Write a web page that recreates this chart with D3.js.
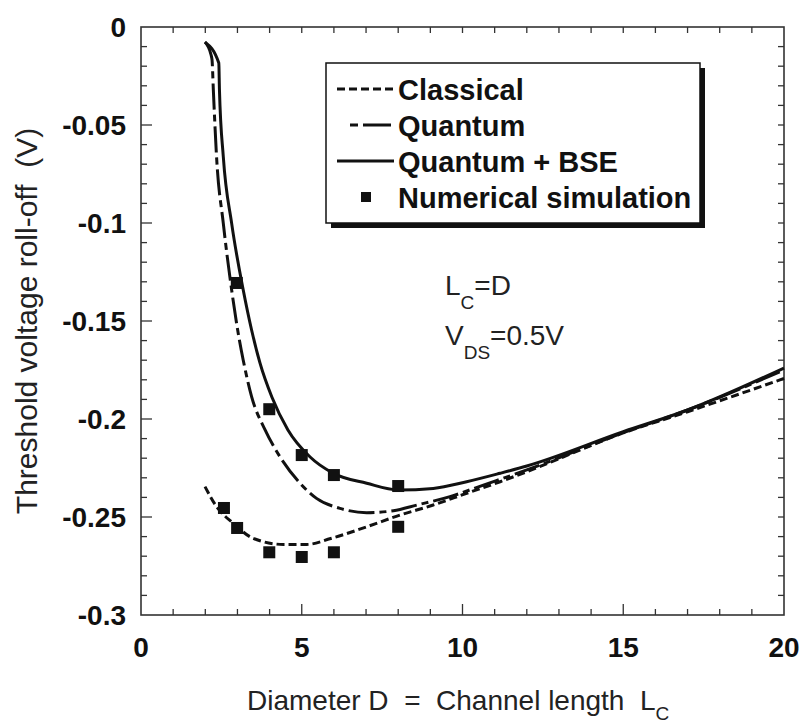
<!DOCTYPE html>
<html>
<head>
<meta charset="utf-8">
<script src="https://cdn.jsdelivr.net/npm/d3@7"></script>
<style>
	body { margin: 0; background: #fff; }
	svg { display: block; font-family: 'Liberation Sans', Arial, sans-serif; }
</style>
</head>
<body>
<script>
// curves: [D, roll-off (V)]
const classical = [[1.99, -0.2345], [2.35, -0.2447], [2.87, -0.2532], [3.49, -0.2609], [4.43, -0.264], [5.15, -0.264],
	[5.9, -0.261], [7.02, -0.255], [8.06, -0.249], [9.09, -0.2439], [10.13, -0.2379], [11.17, -0.232], [12, -0.2269],
	[15, -0.2071], [17, -0.1963], [20, -0.1793]]
const quantum = [[1.99, -0.0077], [2.18, -0.0143], [2.21, -0.0168], [2.25, -0.0321], [2.35, -0.0662], [2.56, -0.1002],
	[2.82, -0.1342], [3.06, -0.1597], [3.18, -0.170], [3.44, -0.1886], [3.86, -0.2056], [4.32, -0.2192], [4.95, -0.2328],
	[5.46, -0.2405], [6.19, -0.2456], [7.02, -0.2478], [7.85, -0.2468], [8.58, -0.2439], [9.61, -0.2396], [10.65, -0.2337],
	[12, -0.226], [15, -0.207], [17, -0.1954], [20, -0.175]]
const quantumBSE = [[1.99, -0.0077], [2.42, -0.0184], [2.44, -0.032], [2.56, -0.0662], [2.82, -0.1002], [3.18, -0.1342],
	[3.44, -0.1546], [3.70, -0.1714], [4.07, -0.1888], [4.57, -0.2056], [5.26, -0.2194], [5.97, -0.2276], [7.02, -0.2328],
	[8.0, -0.2362], [9.09, -0.2354], [10.13, -0.232], [11.17, -0.2277], [12, -0.224], [15, -0.2065], [17, -0.1954], [20, -0.174]]
const simulation = [[2.58, -0.2454], [2.99, -0.2556], [3.99, -0.268], [5, -0.2704], [6, -0.268], [8, -0.255],
	[2.98, -0.1306], [3.99, -0.195], [5, -0.2184], [6, -0.2286], [8, -0.2342]]
const xTicks = [0, 5, 10, 15, 20]
const yTicks = [0, -0.05, -0.1, -0.15, -0.2, -0.25, -0.3]
const legendNames = ['Classical', 'Quantum', 'Quantum + BSE', 'Numerical simulation']

const svg = d3.select('body').append('svg').attr('width', 801).attr('height', 723)
const x = d3.scaleLinear().domain([0, 20]).range([141, 784])
const y = d3.scaleLinear().domain([-0.3, 0]).range([615, 27])
const axisColor = '#333'

// frame + ticks
const frame = svg.append('g')
frame.append('rect')
	.attr('x', x(0)).attr('y', y(0))
	.attr('width', x(20) - x(0)).attr('height', y(-0.3) - y(0))
	.attr('fill', 'none').attr('stroke', axisColor).attr('stroke-width', 1.6)

const xMinor = d3.range(1, 20)
const yMinor = d3.range(1, 30).map(i => -i / 100)
frame.selectAll('line.xb').data(xMinor).join('line')
	.attr('x1', d => x(d)).attr('x2', d => x(d))
	.attr('y1', y(-0.3)).attr('y2', d => y(-0.3) - (d % 5 === 0 ? 11 : 6))
frame.selectAll('line.xt').data(xMinor).join('line')
	.attr('x1', d => x(d)).attr('x2', d => x(d))
	.attr('y1', y(0)).attr('y2', y(0) + 6)
frame.selectAll('line.yl').data(yMinor).join('line')
	.attr('y1', d => y(d)).attr('y2', d => y(d))
	.attr('x1', x(0)).attr('x2', (d, i) => x(0) + ((i + 1) % 5 === 0 ? 11 : 6))
frame.selectAll('line.yr').data(yMinor).join('line')
	.attr('y1', d => y(d)).attr('y2', d => y(d))
	.attr('x1', x(20)).attr('x2', x(20) - 6)
frame.selectAll('line').attr('stroke', axisColor).attr('stroke-width', 1.3)

// tick labels
svg.append('g').selectAll('text').data(xTicks).join('text')
	.attr('x', d => x(d)).attr('y', 657)
	.attr('text-anchor', 'middle').attr('font-size', 28).attr('font-weight', 'bold').attr('fill', '#111')
	.text(d => d)
svg.append('g').selectAll('text').data(yTicks).join('text')
	.attr('x', 126).attr('y', d => y(d) + 10)
	.attr('text-anchor', 'end').attr('font-size', 28).attr('font-weight', 'bold').attr('fill', '#111')
	.text(d => d === 0 ? '0' : d3.format('')(d).replace('−', '-'))

// axis titles
const xt = svg.append('text').attr('x', 247).attr('y', 710).attr('font-size', 28).attr('fill', '#222')
	.attr('xml:space', 'preserve')
xt.append('tspan').text('Diameter D  =  Channel length  L')
xt.append('tspan').attr('font-size', 19).attr('dy', 10).text('C')
svg.append('text')
	.attr('transform', 'translate(37,321) rotate(-90)')
	.attr('text-anchor', 'middle').attr('font-size', 30).attr('fill', '#222')
	.attr('xml:space', 'preserve')
	.text('Threshold voltage roll-off  (V)')

// curves
const line = d3.line().x(d => x(d[0])).y(d => y(d[1])).curve(d3.curveMonotoneX)
const styles = [
	{ data: classical, dash: '8,4' },
	{ data: quantum, dash: '26,5,7,5' },
	{ data: quantumBSE, dash: null },
]
svg.append('g').selectAll('path').data(styles).join('path')
	.attr('d', d => line(d.data))
	.attr('fill', 'none').attr('stroke', '#111').attr('stroke-width', 3)
	.attr('stroke-dasharray', d => d.dash)

svg.append('g').selectAll('rect').data(simulation).join('rect')
	.attr('x', d => x(d[0]) - 6).attr('y', d => y(d[1]) - 6)
	.attr('width', 12).attr('height', 12).attr('fill', '#111')

// annotation
const a1 = svg.append('text').attr('x', 445).attr('y', 295).attr('font-size', 28).attr('fill', '#222')
a1.append('tspan').text('L')
a1.append('tspan').attr('font-size', 19).attr('dy', 14).text('C')
a1.append('tspan').attr('dy', -14).text('=D')
const a2 = svg.append('text').attr('x', 445).attr('y', 345).attr('font-size', 28).attr('fill', '#222')
a2.append('tspan').text('V')
a2.append('tspan').attr('font-size', 19).attr('dy', 14).text('DS')
a2.append('tspan').attr('dy', -14).text('=0.5V')

// legend
const legend = svg.append('g')
legend.append('rect').attr('x', 331).attr('y', 68).attr('width', 374).attr('height', 160).attr('fill', '#111')
legend.append('rect').attr('x', 326).attr('y', 63).attr('width', 374).attr('height', 160)
	.attr('fill', '#fff').attr('stroke', '#111').attr('stroke-width', 1.5)
const rowY = [89, 125, 161, 197]
legend.selectAll('text').data(legendNames).join('text')
	.attr('x', 398).attr('y', (_, i) => rowY[i] + 11)
	.attr('font-size', 29).attr('font-weight', 'bold').attr('fill', '#111')
	.text(d => d)
styles.forEach((s, i) => {
	legend.append('line')
		.attr('x1', i === 1 ? 350 : 337).attr('x2', 394)
		.attr('y1', rowY[i]).attr('y2', rowY[i])
		.attr('stroke', '#111').attr('stroke-width', 3)
		.attr('stroke-dasharray', i === 1 ? '8,5,28' : s.dash)
})
legend.append('rect').attr('x', 361).attr('y', rowY[3] - 5).attr('width', 10).attr('height', 10).attr('fill', '#111')
</script>
</body>
</html>
